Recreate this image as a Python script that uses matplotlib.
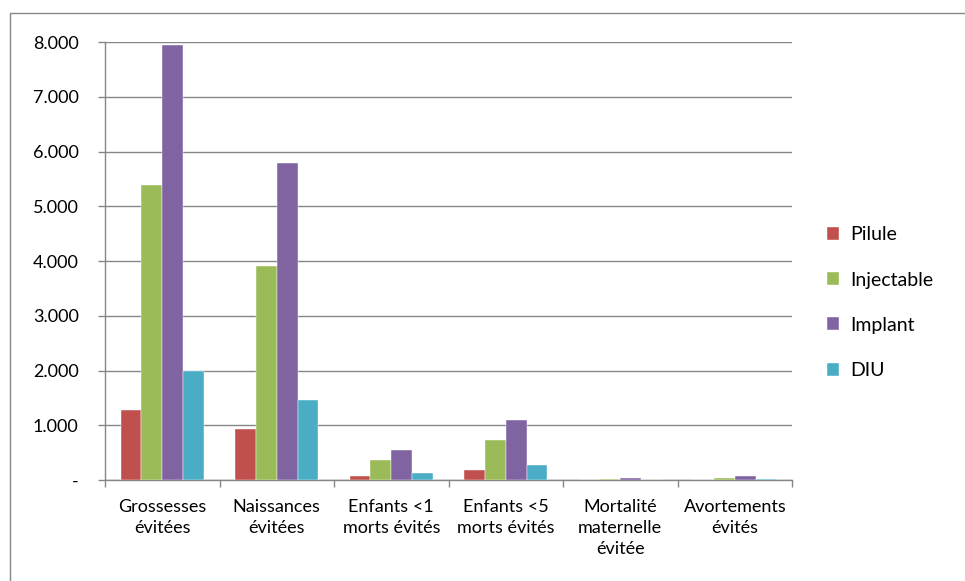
import matplotlib.pyplot as plt
import numpy as np
from matplotlib.patches import Rectangle
from matplotlib.ticker import FixedLocator, FuncFormatter

categories = ['Grossesses\névitées', 'Naissances\névitées', 'Enfants <1\nmorts évités',
              'Enfants <5\nmorts évités', 'Mortalité\nmaternelle\névitée', 'Avortements\névités']
pilule = [1280, 930, 78, 175, 3, 5]
injectable = [5390, 3910, 370, 733, 22, 45]
implant = [7945, 5790, 556, 1090, 40, 67]
diu = [1990, 1460, 133, 272, 2, 15]

series = [('Pilule', pilule, '#C0504D'), ('Injectable', injectable, '#9BBB59'),
          ('Implant', implant, '#8064A2'), ('DIU', diu, '#4BACC6')]

plt.rcParams['font.family'] = ['Lato', 'DejaVu Sans']

fig = plt.figure(figsize=(9.65, 5.81), dpi=100)
ax = fig.add_axes([0.1088, 0.1738, 0.712, 0.7539])

# outer chart border like Excel
fig.patches.append(Rectangle((10 / 965, -0.05), 1.1, 1 - 13 / 581 + 0.05, transform=fig.transFigure,
                             fill=False, edgecolor='#868686', linewidth=1))

x = np.arange(len(categories))
w = 0.182
for i, (name, vals, col) in enumerate(series):
    ax.bar(x + (i - 1.5) * w, vals, w, color=col, label=name, edgecolor='white', linewidth=0.3, zorder=3)

ax.set_xlim(-0.5, len(categories) - 0.5)
ax.set_ylim(0, 8000)
ax.set_yticks(np.arange(0, 8001, 1000))
ax.yaxis.set_major_formatter(FuncFormatter(lambda v, p: '-' if v == 0 else f'{int(v):,}'.replace(',', '.')))
ax.grid(axis='y', color='#868686', linewidth=1, zorder=0)

ax.set_xticks(x)
ax.set_xticklabels(categories, fontsize=13, linespacing=1.35)
ax.xaxis.set_minor_locator(FixedLocator(np.arange(-0.5, len(categories), 1)))
ax.tick_params(axis='x', which='major', length=0, pad=14)
ax.tick_params(axis='x', which='minor', length=5, color='#868686', width=1)
ax.tick_params(axis='y', length=5, color='#868686', width=1, labelsize=13, pad=14)

for s in ['top', 'right']:
    ax.spines[s].set_visible(False)
for s in ['left', 'bottom']:
    ax.spines[s].set_color('#868686')
    ax.spines[s].set_linewidth(1)

ax.legend(loc='center left', bbox_to_anchor=(1.025, 0.405), frameon=False, fontsize=14,
          handlelength=0.65, handleheight=0.65, labelspacing=1.45, handletextpad=0.55)

fig.savefig('out.png', dpi=100)
